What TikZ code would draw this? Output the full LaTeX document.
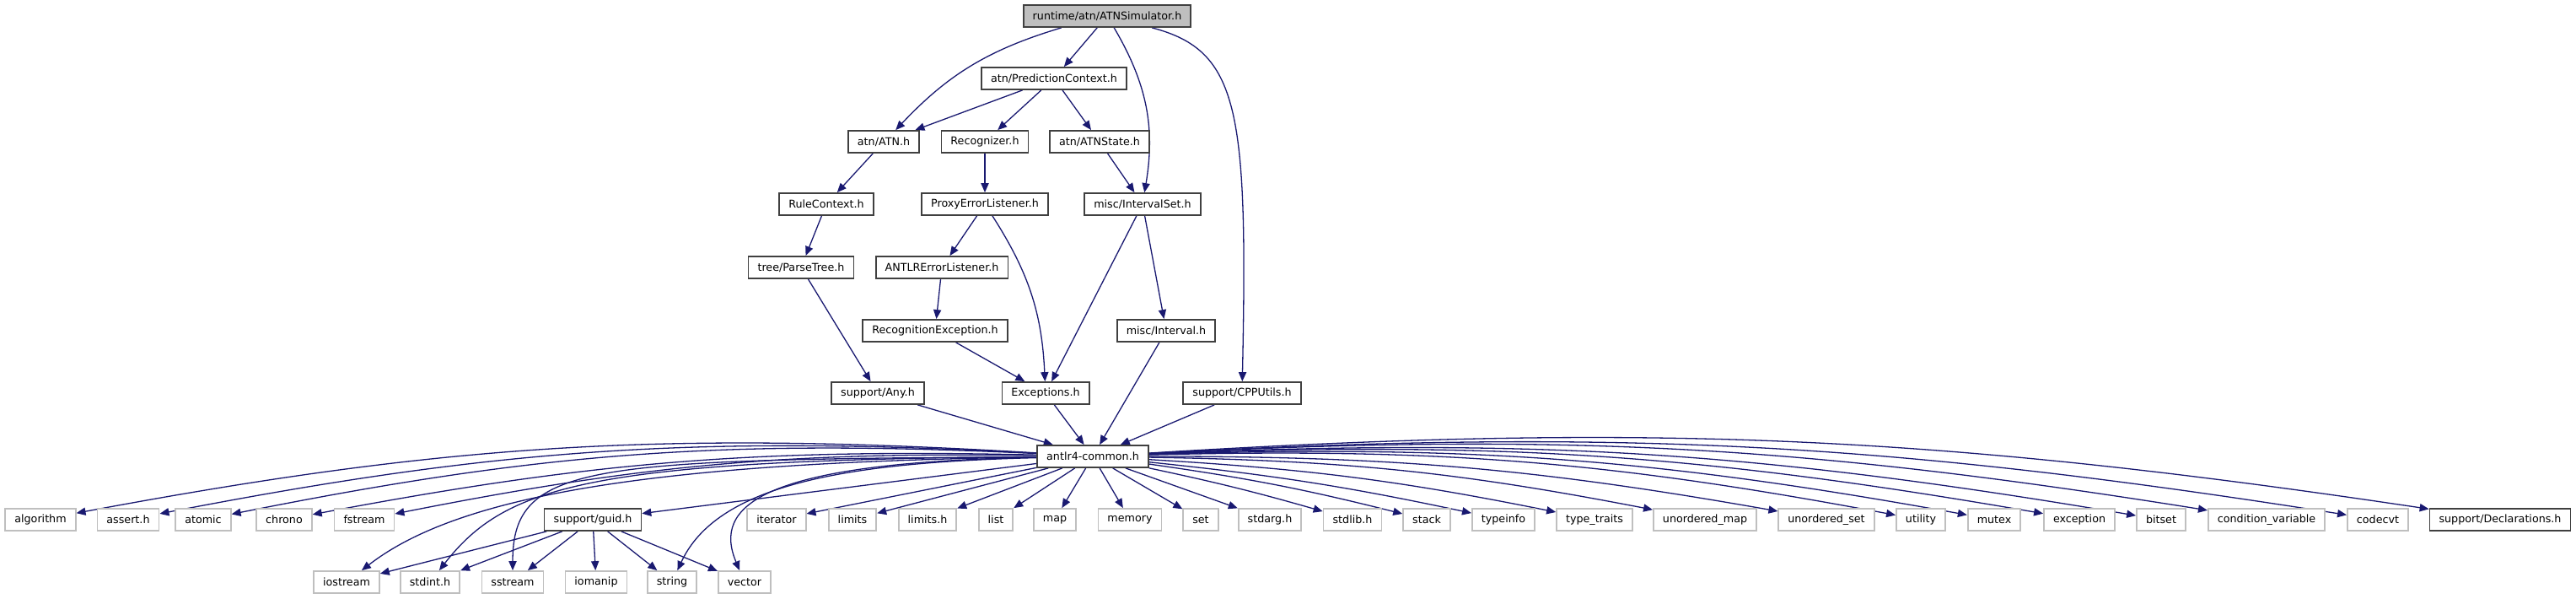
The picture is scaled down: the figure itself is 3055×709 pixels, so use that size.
\documentclass[tikz,border=0pt]{standalone}
\usepackage{fontspec}
\setmainfont{DejaVu Sans}
\usepackage{tikz}
\usetikzlibrary{arrows.meta,backgrounds}
\definecolor{edgenavy}{RGB}{25,25,112}
\definecolor{boxgrey}{RGB}{64,64,64}
\definecolor{sysgrey}{RGB}{191,191,191}
\definecolor{rootfill}{RGB}{191,191,191}
\tikzset{
  base/.style={font=\fontsize{6.35}{7.6}\selectfont, inner xsep=5.5pt, inner ysep=0pt, minimum height=13pt, text=black, line width=0.9pt, fill=white},
  hdr/.style={base, rectangle, draw=boxgrey},
  sys/.style={base, rectangle, draw=sysgrey},
  root/.style={hdr, fill=rootfill},
  arr/.style={-{Triangle[length=5.5pt,width=4.6pt]}, line width=0.65pt, draw=edgenavy},
}

\begin{document}
\begin{tikzpicture}[x=0.5pt,y=-0.5pt]
  \useasboundingbox (0,0) rectangle (3055,709);
  % project headers
  \node[root] (atnsim) at (1313,19) {runtime/atn/ATNSimulator.h};
  \node[hdr] (predctx) at (1250,93) {atn/PredictionContext.h};
  \node[hdr] (atn) at (1048,168) {atn/ATN.h};
  \node[hdr] (recog) at (1168,168) {Recognizer.h};
  \node[hdr] (atnstate) at (1304,168) {atn/ATNState.h};
  \node[hdr] (rulectx) at (980,242) {RuleContext.h};
  \node[hdr] (proxy) at (1168,242) {ProxyErrorListener.h};
  \node[hdr] (intset) at (1355,242) {misc/IntervalSet.h};
  \node[hdr] (parsetree) at (950,317) {tree/ParseTree.h};
  \node[hdr] (antlrerr) at (1117,317) {ANTLRErrorListener.h};
  \node[hdr] (recogexc) at (1109,392) {RecognitionException.h};
  \node[hdr] (interval) at (1383,392) {misc/Interval.h};
  \node[hdr] (any) at (1041,466) {support/Any.h};
  \node[hdr] (except) at (1240,466) {Exceptions.h};
  \node[hdr] (cpputils) at (1473,466) {support/CPPUtils.h};
  \node[hdr] (common) at (1296,541) {antlr4-common.h};
  \node[hdr] (guid) at (703,616) {support/guid.h};
  \node[hdr] (decl) at (2965,616) {support/Declarations.h};
  % system headers
  \foreach \n/\x/\t in {alg/48/algorithm, assert/152/assert.h, atomic/241/atomic, chrono/337/chrono,
                        fstream/432/fstream, iter/921/iterator, limits/1011/limits, limitsh/1100/limits.h,
                        list/1181/list, map/1251/map, memory/1340/memory, set/1424/set, stdarg/1506/stdarg.h,
                        stdlib/1604/stdlib.h, stack/1692/stack, typeinfo/1783/typeinfo, typetraits/1891/type\_traits,
                        unmap/2022/unordered\_map, unset/2166/unordered\_set, utility/2278/utility, mutex/2365/mutex,
                        exception/2466/exception, bitset/2563/bitset, condvar/2688/condition\_variable, codecvt/2820/codecvt}
    \node[sys] (\n) at (\x,616) {\t};
  \foreach \n/\x/\t in {ios/411/iostream, stdint/510/stdint.h, sstream/608/sstream,
                        iomanip/707/iomanip, string/797/string, vector/883/vector}
    \node[sys] (\n) at (\x,690) {\t};

  \begin{scope}[on background layer]
    \draw[arr] (atnsim) to[bend right=15] (atn);
    \draw[arr] (atnsim) -- (predctx);
    \draw[arr] (atnsim) to[bend left=20] (intset);
    \draw[arr] (atnsim) .. controls (1470,60) and (1480,130) .. (cpputils);
    \foreach \t in {atn,recog,atnstate}{\draw[arr] (predctx) -- (\t);}
    \draw[arr] (atn) -- (rulectx);
    \draw[arr] (recog) -- (proxy);
    \draw[arr] (atnstate) -- (intset);
    \draw[arr] (rulectx) -- (parsetree);
    \draw[arr] (parsetree) -- (any);
    \draw[arr] (proxy) -- (antlrerr);
    \draw[arr] (proxy) to[bend left=15] (except);
    \draw[arr] (antlrerr) -- (recogexc);
    \draw[arr] (recogexc) -- (except);
    \draw[arr] (intset) -- (except);
    \draw[arr] (intset) -- (interval);
    \foreach \s in {any,except,interval,cpputils}{\draw[arr] (\s) -- (common);}
    % fan out of antlr4-common.h
    \foreach \n/\b in {alg/7, assert/7, atomic/7, chrono/6, fstream/6, guid/0, iter/0, limits/0, limitsh/0,
                       list/0, map/0, memory/0, set/0, stdarg/0, stdlib/-2, stack/-3, typeinfo/-3,
                       typetraits/-4, unmap/-5, unset/-5, utility/-6, mutex/-6, exception/-6, bitset/-6,
                       condvar/-6, codecvt/-6, decl/-6}
      \draw[arr] (common) to[bend right=\b] (\n);
    \foreach \n/\p/\q in {ios/{760,548}/{540,590}, stdint/{700,545}/{600,575}, sstream/{700,545}/{608,548},
                          string/{1000,548}/{850,575}, vector/{900,548}/{845,600}}
      \draw[arr] (common) .. controls (\p) and (\q) .. (\n);
    \foreach \n in {ios,stdint,sstream,iomanip,string,vector}{\draw[arr] (guid) -- (\n);}
  \end{scope}
\end{tikzpicture}
\end{document}
